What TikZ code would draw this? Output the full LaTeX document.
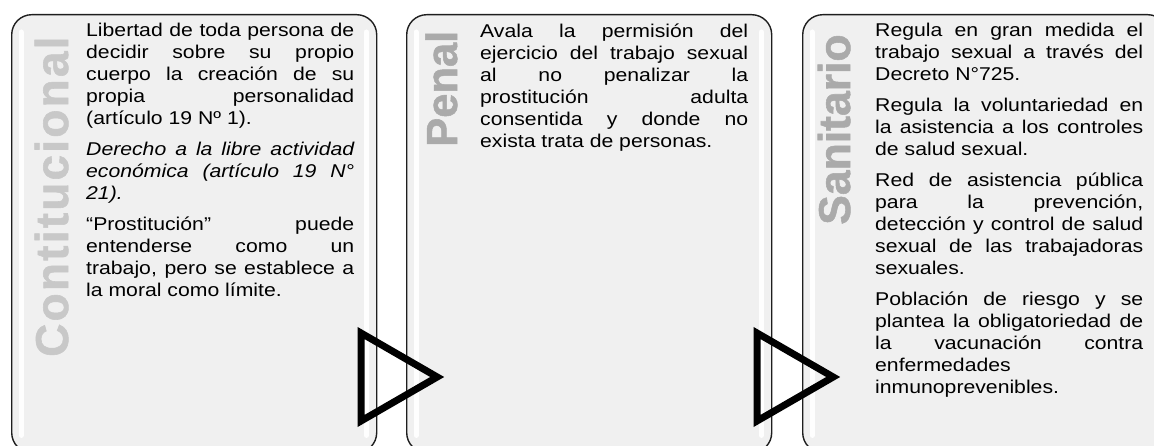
\documentclass[tikz,border=0pt]{standalone}
\usepackage{fontspec}
\setmainfont{Liberation Sans}[FakeStretch=1.146]
\newfontfamily\lblfont{Liberation Sans}[UprightFont={* Bold}, FakeBold=1.2]
\definecolor{boxfill}{HTML}{F0F0F0}
\definecolor{boxline}{HTML}{1E1E1E}
\definecolor{lblA}{HTML}{C8C8C8}
\definecolor{lblB}{HTML}{AAAAAA}
\newcommand\jl[1]{\makebox[\linewidth][s]{#1}\par}
\newcommand\el[1]{\mbox{#1}\par}
\newcommand\pgap{\vspace{9pt}}
\newcommand\txtblock[1]{\parbox[t]{268pt}{\fontsize{18.5}{22}\selectfont\setlength\parindent{0pt}\setlength\parskip{0pt}#1}}
\newcommand\sk{\kern2.2pt}
\begin{document}
\begin{tikzpicture}[x=1pt,y=-1pt,
  panel/.style={draw=boxline, line width=1.4pt, fill=boxfill, rounded corners=20pt,
    minimum width=365pt, minimum height=438pt, anchor=north west, inner sep=0pt},
  gloss/.style={draw=white, line width=5pt, line cap=round, opacity=0.95},
  vlabel/.style={rotate=90, anchor=base west, inner sep=0pt},
  body/.style={anchor=base west, inner sep=0pt},
  flowtri/.style={draw=black, line width=7pt, line join=miter, miter limit=10}]
\useasboundingbox (0,0) rectangle (1154,446);
\clip (0,0) rectangle (1154,446);
% panels
\node[panel] (b1) at (11,14) {};
\node[panel] (b2) at (406,14) {};
\node[panel] (b3) at (802,14) {};
% gloss highlights
\foreach \b in {b1,b2,b3}{
  \draw[gloss] ([xshift=10pt,yshift=-18pt]\b.north west) -- ([xshift=10pt,yshift=18pt]\b.south west);
  \draw[gloss] ([xshift=-11pt,yshift=-18pt]\b.north east) -- ([xshift=-11pt,yshift=18pt]\b.south east);
}
% vertical labels
\node[vlabel, text=lblA] (l1) at (68,357) {\lblfont\fontsize{46}{46}\selectfont C\sk o\sk n\sk t\sk i\sk t\sk u\sk c\sk i\sk o\sk n\sk a\sk l};
\node[vlabel, text=lblB] (l2) at (457,147) {\lblfont\fontsize{43.5}{44}\selectfont Penal};
\node[vlabel, text=lblB] (l3) at (850,225) {\lblfont\fontsize{44.5}{44}\selectfont Sanitario};
% body texts
\node[body] (t1) at (86,37) {\txtblock{%
\jl{Libertad de toda persona de}
\jl{decidir sobre su propio}
\jl{cuerpo la creación de su}
\jl{propia personalidad}
\el{(artículo 19 Nº 1).}
\pgap
\itshape
\jl{Derecho a la libre actividad}
\jl{económica (artículo 19 N°}
\el{21).}
\pgap
\upshape
\jl{“Prostitución” puede}
\jl{entenderse como un}
\jl{trabajo, pero se establece a}
\el{la moral como límite.}}};
\node[body] (t2) at (480,38) {\txtblock{%
\jl{Avala la permisión del}
\jl{ejercicio del trabajo sexual}
\jl{al no penalizar la}
\jl{prostitución adulta}
\jl{consentida y donde no}
\el{exista trata de personas.}}};
\node[body] (t3) at (875,37) {\txtblock{%
\jl{Regula en gran medida el}
\jl{trabajo sexual a través del}
\el{Decreto N°725.}
\pgap
\jl{Regula la voluntariedad en}
\jl{la asistencia a los controles}
\el{de salud sexual.}
\pgap
\jl{Red de asistencia pública}
\jl{para la prevención,}
\jl{detección y control de salud}
\jl{sexual de las trabajadoras}
\el{sexuales.}
\pgap
\jl{Población de riesgo y se}
\jl{plantea la obligatoriedad de}
\jl{la vacunación contra}
\el{enfermedades}
\el{inmunoprevenibles.}}};
% flow triangles
\draw[flowtri] (361,333) -- (361,421) -- (437.2,377) -- cycle;
\draw[flowtri] (757,333) -- (757,421) -- (833.2,377) -- cycle;
\end{tikzpicture}
\end{document}
